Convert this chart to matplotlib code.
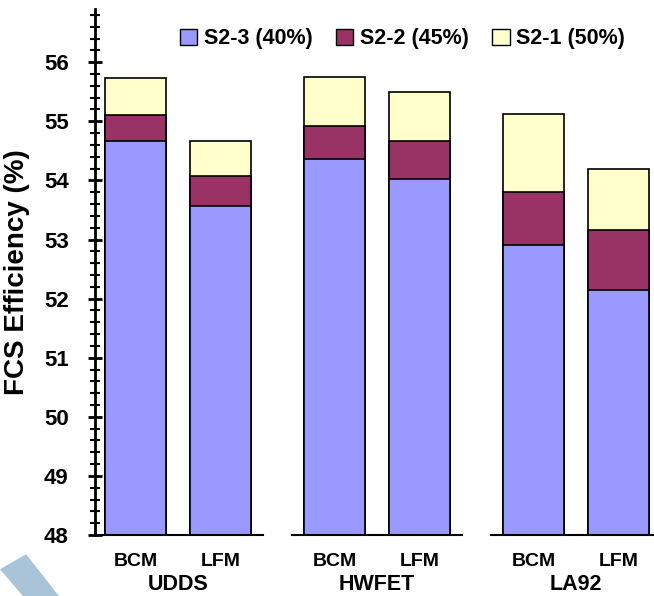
import numpy as np
import matplotlib
matplotlib.use("Agg")
import matplotlib.pyplot as plt
from matplotlib.patches import Patch, Polygon
from matplotlib.ticker import MultipleLocator

plt.rcParams['font.family'] = ['Liberation Sans', 'DejaVu Sans']
plt.rcParams['font.weight'] = 'bold'

cycles = ["UDDS", "HWFET", "LA92"]
methods = ["BCM", "LFM"]
series = ["S2-1 (50%)", "S2-2 (45%)", "S2-3 (40%)"]
colors = ["#FFFFCC", "#993366", "#9999FF"]

# efficiency level reached by each series (BCM, LFM per cycle)
s2_1 = [55.73, 54.67, 55.75, 55.50, 55.12, 54.19]
s2_2 = [55.10, 54.07, 54.92, 54.67, 53.81, 53.16]
s2_3 = [54.67, 53.56, 54.36, 54.03, 52.90, 52.15]
values = [s2_1, s2_2, s2_3]

base = 48
bar_w = 0.72
group_step = 2.34
first = 0.48

pos = np.array([first + g * group_step + j for g in range(len(cycles)) for j in range(len(methods))])

fig = plt.figure(figsize=(6.54, 5.96), dpi=100)
ax = fig.add_axes([0.1453, 0.1023, 0.8547, 0.8826])

for name, col, vals in zip(series, colors, values):
    ax.bar(pos, np.array(vals) - base, bottom=base, width=bar_w, color=col,
           edgecolor="black", linewidth=1.2, zorder=3)

ax.set_xlim(0, 6.58)
ax.set_ylim(48, 56.9)
ax.yaxis.set_major_locator(MultipleLocator(1))
ax.yaxis.set_minor_locator(MultipleLocator(0.2))
ax.set_yticks(np.arange(48, 57), [str(v) for v in range(48, 57)], fontsize=16, fontweight='bold')
ax.tick_params(axis='y', which='major', direction='inout', length=10, width=2, pad=14)
ax.tick_params(axis='y', which='minor', direction='inout', length=7, width=1.5)

for s in ["top", "right", "bottom"]:
    ax.spines[s].set_visible(False)
ax.spines["left"].set_linewidth(2)

# broken baseline under each group
centers = [first + g * group_step + 0.5 for g in range(len(cycles))]
for c in centers:
    ax.plot([max(c - 1.0, 0), min(c + 1.0, 6.58)], [base, base], color="black",
            linewidth=1.5, clip_on=False, zorder=4)

ax.set_xticks(pos, methods * len(cycles), fontsize=14, fontweight='bold')
ax.tick_params(axis='x', length=0, pad=13)
for c, name in zip(centers, cycles):
    ax.text(c, -0.114, name, transform=ax.get_xaxis_transform(), ha="center",
            va="bottom", fontsize=15.5, fontweight="bold")

ax.set_ylabel("FCS Efficiency (%)", fontsize=20, fontweight="bold", labelpad=10)

handles = [Patch(facecolor=c, edgecolor="black", label=n) for n, c in zip(series[::-1], colors[::-1])]
ax.legend(handles=handles, loc="upper center", bbox_to_anchor=(0.55, 1.0), ncol=3,
          frameon=False, handlelength=0.8, handleheight=0.8,
          handletextpad=0.3, columnspacing=1.1, prop={'weight': 'bold', 'size': 15.5})

# faint watermark corner shape
fig.patches.append(Polygon([[0.0, 0.045], [0.04, 0.07], [0.09, 0.0], [0.035, 0.0]],
                           closed=True, transform=fig.transFigure, facecolor="#A9C3D9",
                           edgecolor="none", zorder=0))

fig.savefig("out.png", dpi=100)
